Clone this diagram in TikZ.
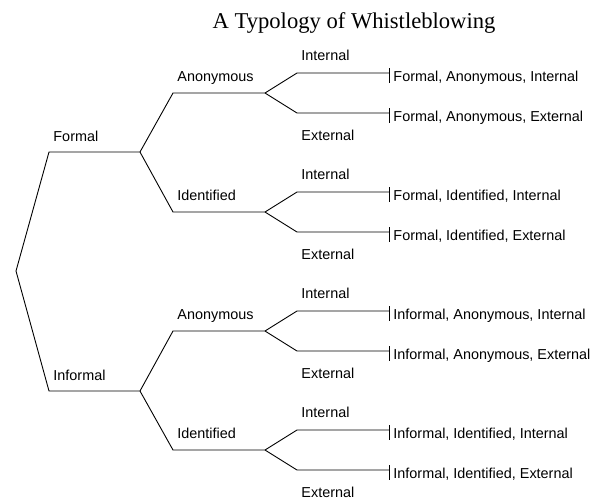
\documentclass[tikz,border=0pt]{standalone}
\usepackage{fontspec}
\setmainfont{Liberation Serif}
\setsansfont{Liberation Sans}

\begin{document}
\begin{tikzpicture}[x=1pt,y=-1pt,line width=0.9pt]
        \tikzstyle{lbl}=[anchor=base west,inner sep=0pt,font=\sffamily\fontsize{14.4}{16}\selectfont]
        \tikzstyle{leaf}=[lbl]
        \tikzstyle{ttl}=[anchor=base,inner sep=0pt,font=\fontsize{22.6}{26}\selectfont]
        \useasboundingbox (0,0) rectangle (597,499);
        \node[ttl] (title) at (354,28) {A Typology of Whistleblowing};
        \coordinate (root) at (16,271);
        \foreach \name/\y/\txt in {F/152/Formal, I/391/Informal} {
            \coordinate (\name-a) at (49,\y);
            \coordinate (\name-b) at (140,\y);
            \draw (root) -- (\name-a) -- (\name-b);
            \node[lbl] (\name-l) at (53,{\y-11}) {\txt};
        }
        \foreach \p/\c/\y/\txt in {F/A/93/Anonymous, F/D/212/Identified, I/A/331/Anonymous, I/D/450/Identified} {
            \coordinate (\p\c-a) at (173,\y);
            \coordinate (\p\c-b) at (265,\y);
            \draw (\p-b) -- (\p\c-a) -- (\p\c-b);
            \node[lbl] (\p\c-l) at (177,{\y-12}) {\txt};
        }
        \foreach \p/\y/\pre in {FA/93/{Formal, Anonymous}, FD/212/{Formal, Identified}, IA/331/{Informal, Anonymous}, ID/450/{Informal, Identified}} {
            \foreach \c/\dy/\txt/\ly in {N/-20/Internal/-13, X/20/External/27} {
                \coordinate (\p\c-a) at (297,{\y+\dy});
                \coordinate (\p\c-b) at (389,{\y+\dy});
                \draw (\p-b) -- (\p\c-a) -- (\p\c-b);
                \draw ([yshift=5pt]\p\c-b) -- ([yshift=-10pt]\p\c-b);
                \node[lbl] (\p\c-l) at (301,{\y+\dy+\ly}) {\txt};
                \node[leaf] (\p\c-t) at (393,{\y+\dy+8}) {\pre, \txt};
            }
        }
    \end{tikzpicture}
\end{document}
